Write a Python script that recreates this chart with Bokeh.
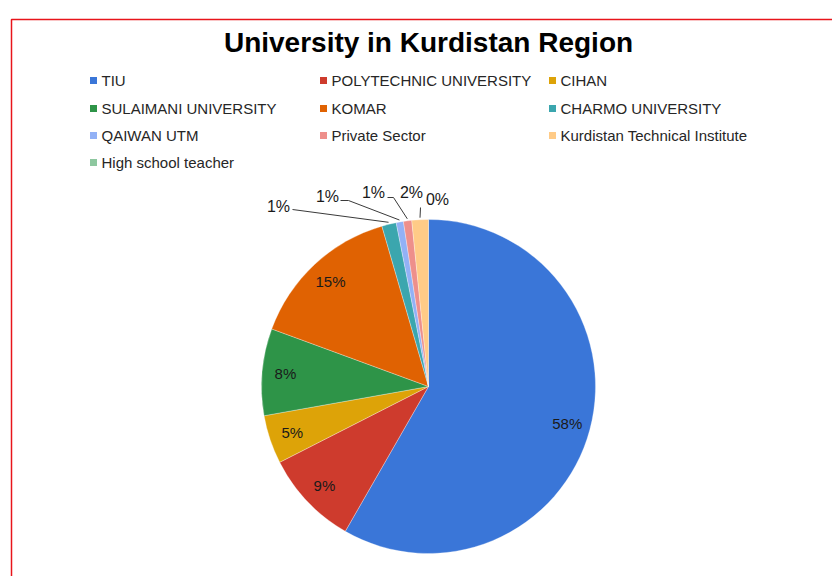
import numpy as np
from bokeh.plotting import figure
from bokeh.models import ColumnDataSource, Range1d
from bokeh.embed import file_html
from bokeh.resources import INLINE
from bokeh.core.properties import value

# ---------------- data ----------------
title = "University in Kurdistan Region"
categories = ["TIU", "POLYTECHNIC UNIVERSITY", "CIHAN", "SULAIMANI UNIVERSITY", "KOMAR",
              "CHARMO UNIVERSITY", "QAIWAN UTM", "Private Sector",
              "Kurdistan Technical Institute", "High school teacher"]
shares = [58.3, 9.2, 4.7, 8.4, 14.9, 1.4, 0.7, 0.8, 1.6, 0.0]
colors = ["#3A76D8", "#CE3B2D", "#DDA308", "#2E9448", "#E06202",
          "#3BA6AE", "#92B1F6", "#EE8F8B", "#FFCB87", "#8DC79F"]

# ---------------- layout (screen pixels) ----------------
W, H = 832, 576
CX, CY, R = 428, 386, 167
FONT = "Liberation Sans"

def sy(y):  # screen y -> data y
    return H - y

vals = np.array(shares, dtype=float)
frac = vals / vals.sum()
cum_end = np.cumsum(frac)
cum_start = cum_end - frac
# clockwise from 12 o'clock
start_angle = np.pi / 2 - cum_end * 2 * np.pi
end_angle = np.pi / 2 - cum_start * 2 * np.pi
mid_theta = (cum_start + cum_end) / 2 * 2 * np.pi  # clockwise from top
labels = [f"{v * 100:.0f}%" for v in frac]

p = figure(width=W, height=H, output_backend="svg", toolbar_location=None,
           x_range=Range1d(0, W), y_range=Range1d(0, H),
           min_border=0, outline_line_color=None, background_fill_color="white")
p.axis.visible = False
p.grid.visible = False

# red frame
p.quad(left=[11], right=[W + 20], top=[sy(19)], bottom=[-20],
       fill_color=None, line_color="#E8141B", line_width=1.5)

# wedges
keep = vals > 0
src = ColumnDataSource(dict(
    x=[CX] * int(keep.sum()), y=[sy(CY)] * int(keep.sum()),
    s=start_angle[keep], e=end_angle[keep],
    c=[c for c, k in zip(colors, keep) if k]))
p.wedge(x="x", y="y", radius=R, start_angle="s", end_angle="e",
        fill_color="c", line_color="white", line_width=0.6, line_alpha=0.5, source=src)

# inside labels
big = frac >= 0.03
rin = 0.86 * R
ix = CX + rin * np.sin(mid_theta[big])
iy = CY - rin * np.cos(mid_theta[big])
p.text(x=ix, y=[sy(v) for v in iy], text=[l for l, b in zip(labels, big) if b],
       text_font=value(FONT), text_font_size="15px", text_color="#1a1a1a",
       text_align="center", text_baseline="middle")

# outside labels for small slices (positions chosen to avoid overlap)
small_idx = [i for i in range(len(vals)) if not big[i]]
out_pos = [(278, 206), (327, 196), (373, 192), (411, 192), (437, 199)]
p.text(x=[q[0] for q in out_pos], y=[sy(q[1]) for q in out_pos],
       text=[labels[i] for i in small_idx],
       text_font=value(FONT), text_font_size="16px", text_color="#1a1a1a",
       text_align="center", text_baseline="middle")

# leader lines
lead_start = [[(292, 209)], [(340, 200), (348, 200)], [(387, 197), (393, 197)], [(420, 207)], None]
xs, ys = [], []
for i, pts in zip(small_idx, lead_start):
    if pts is None:
        continue
    ex = CX + (R + 2) * np.sin(mid_theta[i])
    ey = CY - (R + 2) * np.cos(mid_theta[i])
    lx = [q[0] for q in pts] + [ex]
    ly = [sy(q[1]) for q in pts] + [sy(ey)]
    xs.append(lx)
    ys.append(ly)
p.multi_line(xs=xs, ys=ys, line_color="#3a3a3a", line_width=1)

# title
p.text(x=[CX], y=[sy(42)], text=[title], text_font=value(FONT), text_font_size="28px",
       text_font_style="bold", text_color="black", text_align="center", text_baseline="middle")

# legend (3 columns)
col_x = [89, 319, 548]
row_y = [80, 108, 135, 162]
lx, ly = [], []
for k in range(len(categories)):
    lx.append(col_x[k % 3])
    ly.append(row_y[k // 3])
p.rect(x=[v + 4 for v in lx], y=[sy(v) for v in ly], width=7, height=7,
       fill_color=colors, line_color=None)
p.text(x=[v + 12 for v in lx], y=[sy(v) for v in ly], text=categories,
       text_font=value(FONT), text_font_size="15px", text_color="#262626",
       text_align="left", text_baseline="middle")

open("out.html", "w").write(file_html(p, INLINE))
